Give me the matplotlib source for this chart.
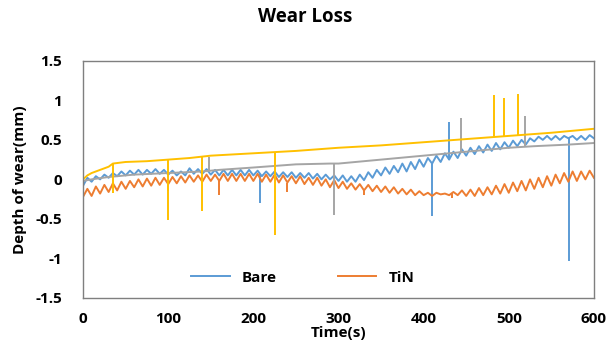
import numpy as np
import matplotlib
matplotlib.use("Agg")
import matplotlib.pyplot as plt

plt.rcParams['font.family'] = ['Open Sans', 'DejaVu Sans']
plt.rcParams['font.weight'] = 'bold'

# sampled every 5 s, 0..600
t5 = np.arange(0, 601, 5)

bare = [-0.08, 0.02, -0.03, 0.04, 0.0, 0.06, 0.02, 0.08, 0.04, 0.1,
        0.05, 0.11, 0.06, 0.12, 0.06, 0.12, 0.07, 0.13, 0.07, 0.12,
        0.06, 0.11, 0.05, 0.1, 0.05, 0.14, 0.07, 0.13, 0.07, 0.13,
        0.06, 0.12, 0.05, 0.12, 0.05, 0.12, 0.05, 0.12, 0.05, 0.12,
        0.05, 0.11, 0.04, 0.1, 0.04, 0.1, 0.03, 0.09, 0.03, 0.09,
        0.02, 0.08, 0.02, 0.08, 0.01, 0.07, 0.0, 0.06, 0.0, 0.05,
        -0.02, 0.05, -0.03, 0.04, -0.03, 0.06, -0.01, 0.09, 0.02, 0.12,
        0.05, 0.15, 0.07, 0.17, 0.09, 0.2, 0.1, 0.22, 0.13, 0.25,
        0.16, 0.27, 0.2, 0.3, 0.22, 0.33, 0.25, 0.35, 0.27, 0.38,
        0.3, 0.4, 0.32, 0.42, 0.34, 0.44, 0.36, 0.46, 0.38, 0.47,
        0.4, 0.49, 0.42, 0.5, 0.44, 0.52, 0.48, 0.54, 0.5, 0.55,
        0.5, 0.55, 0.5, 0.55, 0.52, 0.55, 0.5, 0.55, 0.5, 0.56,
        0.52]

tin = [-0.22, -0.12, -0.21, -0.09, -0.18, -0.07, -0.16, -0.05, -0.14, -0.03,
       -0.12, -0.02, -0.1, 0.0, -0.09, 0.01, -0.08, 0.02, -0.07, 0.02,
       -0.06, 0.03, -0.05, 0.04, -0.04, 0.05, -0.03, 0.05, -0.03, 0.06,
       -0.02, 0.06, -0.02, 0.07, -0.02, 0.07, -0.02, 0.07, -0.02, 0.07,
       -0.02, 0.07, -0.03, 0.06, -0.03, 0.06, -0.04, 0.05, -0.04, 0.04,
       -0.05, 0.04, -0.06, 0.02, -0.07, 0.02, -0.08, 0.0, -0.1, -0.01,
       -0.11, -0.03, -0.12, -0.05, -0.13, -0.06, -0.14, -0.07, -0.15, -0.08,
       -0.16, -0.09, -0.17, -0.1, -0.18, -0.12, -0.19, -0.13, -0.2, -0.15,
       -0.2, -0.17, -0.21, -0.17, -0.19, -0.18, -0.2, -0.16, -0.2, -0.14,
       -0.21, -0.13, -0.21, -0.11, -0.2, -0.1, -0.19, -0.08, -0.18, -0.06,
       -0.17, -0.04, -0.15, -0.02, -0.14, 0.0, -0.12, 0.02, -0.1, 0.04,
       -0.08, 0.06, -0.05, 0.08, -0.03, 0.1, -0.02, 0.1, 0.0, 0.11,
       0.02]

gray_t = [0, 10, 30, 60, 100, 140, 160, 200, 250, 290, 300, 340, 400, 450, 500, 530, 570, 600]
gray_y = [-0.02, 0.0, 0.03, 0.06, 0.08, 0.1, 0.12, 0.15, 0.19, 0.2, 0.2, 0.24, 0.3, 0.35, 0.4, 0.42, 0.44, 0.46]

yellow_t = [0, 5, 10, 20, 30, 35, 50, 75, 100, 125, 150, 200, 250, 300, 350, 400, 450, 500, 550, 600]
yellow_y = [0.0, 0.05, 0.08, 0.12, 0.16, 0.2, 0.22, 0.23, 0.25, 0.27, 0.3, 0.33, 0.36, 0.4, 0.43, 0.47, 0.51, 0.55, 0.59, 0.64]

# spikes: time, tip value
bare_spk_t = [208, 410, 430, 571]
bare_spk_y = [-0.3, -0.47, 0.72, -1.03]
tin_spk_t = [100, 160, 240, 330, 433]
tin_spk_y = [-0.15, -0.2, -0.16, -0.2, -0.24]
gray_spk_t = [148, 295, 444, 519]
gray_spk_y = [0.28, -0.45, 0.78, 0.8]
yel_spk_t = [35, 100, 140, 225, 483, 494, 511]
yel_spk_y = [-0.17, -0.52, -0.4, -0.7, 1.07, 1.03, 1.08]

c_bare = '#5B9BD5'
c_tin = '#ED7D31'
c_gray = '#A5A5A5'
c_yel = '#FFC000'

fig = plt.figure(figsize=(6.11, 3.58), dpi=100)
ax = fig.add_axes([0.136, 0.168, 0.836, 0.662])

lw = 1.4
ax.plot(t5, bare, color=c_bare, lw=lw, label='Bare')
ax.vlines(bare_spk_t, np.interp(bare_spk_t, t5, bare), bare_spk_y, color=c_bare, lw=lw)
ax.plot(t5, tin, color=c_tin, lw=lw, label='TiN')
ax.vlines(tin_spk_t, np.interp(tin_spk_t, t5, tin), tin_spk_y, color=c_tin, lw=lw)
ax.plot(gray_t, gray_y, color=c_gray, lw=lw)
ax.vlines(gray_spk_t, np.interp(gray_spk_t, gray_t, gray_y), gray_spk_y, color=c_gray, lw=lw)
ax.plot(yellow_t, yellow_y, color=c_yel, lw=lw)
ax.vlines(yel_spk_t, np.interp(yel_spk_t, yellow_t, yellow_y), yel_spk_y, color=c_yel, lw=lw)

ax.set_xlim(0, 600)
ax.set_ylim(-1.5, 1.5)
ax.set_xticks([0, 100, 200, 300, 400, 500, 600])
ax.set_yticks([-1.5, -1, -0.5, 0, 0.5, 1, 1.5])
ax.set_yticklabels(['-1.5', '-1', '-0.5', '0', '0.5', '1', '1.5'])
ax.tick_params(length=0, labelsize=11)
ax.tick_params(axis='x', pad=10)
ax.tick_params(axis='y', pad=15)
for s in ax.spines.values():
    s.set_color('#7F7F7F')
    s.set_linewidth(1)

ax.set_xlabel('Time(s)', fontsize=11, fontweight='bold', labelpad=0)
ax.set_ylabel('Depth of wear(mm)', fontsize=11, fontweight='bold', labelpad=6)
fig.suptitle('Wear Loss', fontsize=13.5, fontweight='bold', y=0.98)

ax.legend(loc='center', bbox_to_anchor=(0.43, 0.085), ncol=2, frameon=False,
          handlelength=2.5, columnspacing=4, prop={'weight': 'bold', 'size': 11})

fig.savefig('out.png', dpi=100)
